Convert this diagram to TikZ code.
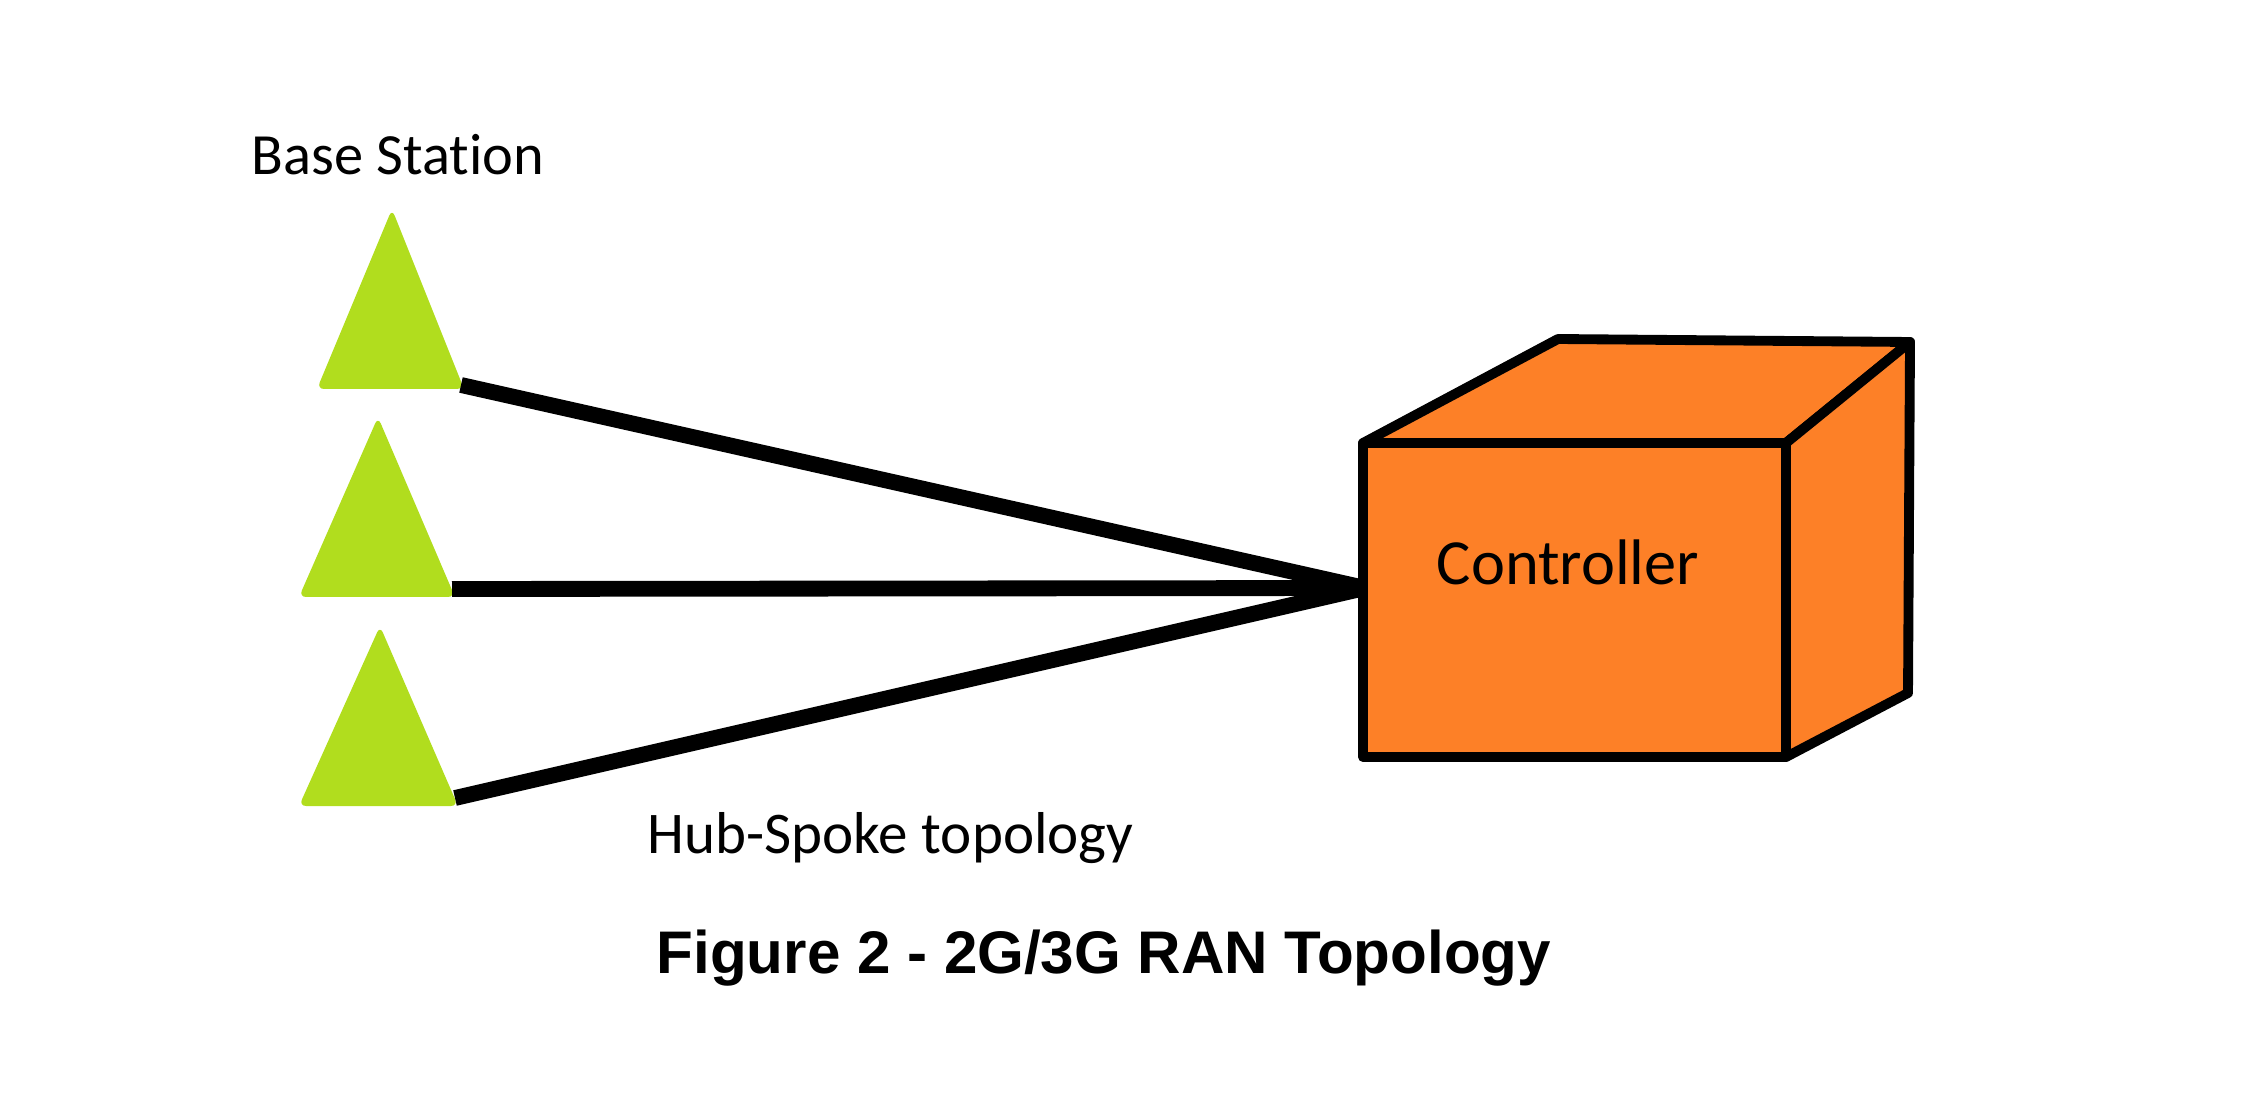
\documentclass[tikz,border=0pt]{standalone}
\usepackage{fontspec}
\setmainfont{Carlito}[Ligatures=CommonOff]
\newfontfamily\arialfont{Liberation Sans}

\definecolor{stationgreen}{RGB}{177,221,30}
\definecolor{boxorange}{RGB}{253,128,39}

\tikzset{
  station/.style={fill=stationgreen, rounded corners=2},
  link/.style={line width=4.5pt},
  cubeface/.style={fill=boxorange, draw=black, line width=2.8pt, line join=round},
  label/.style={inner sep=0pt, anchor=base west}
}

\begin{document}
\begin{tikzpicture}[x=0.01cm, y=-0.01cm]
        \useasboundingbox (0,0) rectangle (2246,1116);

        % Base stations
        \fill[station] (392,209) -- (464,389) -- (317,389) -- cycle;
        \fill[station] (378,417) -- (455,597) -- (299,597) -- cycle;
        \fill[station] (380,626) -- (458,806) -- (299,806) -- cycle;
        \coordinate (bs1) at (461,385);
        \coordinate (bs2) at (452,589);
        \coordinate (bs3) at (455,798);
        \coordinate (hub) at (1365,588);

        % Links to the controller
        \draw[link] (bs1) -- (hub);
        \draw[link] (bs2) -- (hub);
        \draw[link] (bs3) -- (hub);

        % Controller box
        \filldraw[cubeface] (1363,443) -- (1558,339) -- (1910,342) -- (1786,443) -- cycle;
        \filldraw[cubeface] (1786,443) -- (1910,342) -- (1908,693) -- (1786,757) -- cycle;
        \filldraw[cubeface] (1363,443) rectangle (1786,757);
        \node[inner sep=0pt, anchor=base, font=\fontsize{18.3pt}{20pt}\selectfont] (ctrl) at (1568,585) {Controller};

        % Labels
        \node[label, font=\fontsize{16.6pt}{18pt}\selectfont] (bslabel) at (251,175) {Base Station};
        \node[label, font=\fontsize{16.8pt}{18pt}\selectfont] (topo) at (647,853) {Hub-Spoke topology};
        \node[label, font=\arialfont\bfseries\fontsize{17.1pt}{20pt}\selectfont] (caption) at (656,973) {Figure 2 - 2G/3G RAN Topology};
\end{tikzpicture}
\end{document}
